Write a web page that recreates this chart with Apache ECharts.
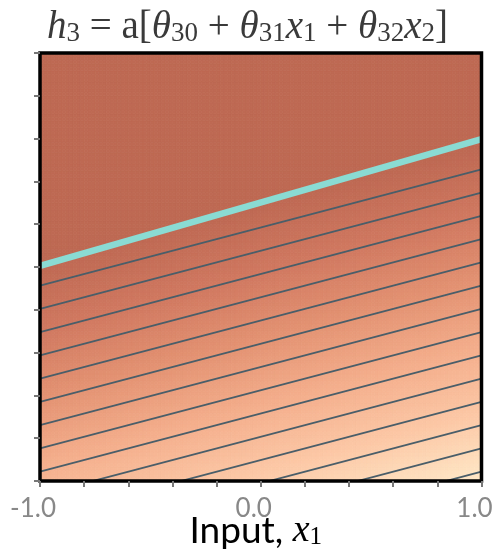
<!DOCTYPE html>
<html>
<head>
<meta charset="utf-8">
<script src="https://cdn.jsdelivr.net/npm/echarts@6/dist/echarts.min.js"></script>
<style>
html,body{margin:0;padding:0;background:#fff;}
#chart{width:495px;height:556px;}
</style>
</head>
<body>
<div id="chart"></div>
<script>
// Parameters of the hidden unit
const theta30 = 0.27;
const theta31 = 0.25;
const theta32 = -0.92;
// Contour levels drawn as thin lines
const contourLevels = [0.1, 0.2, 0.3, 0.4, 0.5, 0.6, 0.7, 0.8, 0.9, 1.0, 1.1, 1.2, 1.3, 1.4];
// Cyan joint line (x1 values and x2 values at the plot edges)
const jointX1 = [-1.0, 1.0];
const jointX2 = [0.005, 0.598];
// Tick labels shown on the x axis
const xTickValues = [-1.0, 0.0, 1.0];
const xTickLabels = ['-1.0', '0.0', '1.0'];
// Colour map stops for the activation
const colourStops = ['#BE6953', '#D07860', '#E39272', '#F4AE8C', '#FCC8A6', '#FFE9C8'];
const gridN = 120;

const cells = [];
const step = 2 / gridN;
for (let i = 0; i < gridN; i++) {
  const x1 = -1 + (i + 0.5) * step;
  for (let j = 0; j < gridN; j++) {
    const x2 = -1 + (j + 0.5) * step;
    cells.push([x1, x2, Math.max(0, theta30 + theta31 * x1 + theta32 * x2)]);
  }
}
const vmax = Math.max(0, theta30 + theta31 * 1 + theta32 * -1);

const lineStyleContour = { color: '#4A5E69', width: 1.8 };
const contourSeries = contourLevels.map(l => ({
  type: 'line',
  data: [[-1, (l - theta30 - theta31 * -1) / theta32], [1, (l - theta30 - theta31 * 1) / theta32]],
  symbol: 'none', clip: true, silent: true, z: 3,
  lineStyle: lineStyleContour
}));

const chart = echarts.init(document.getElementById('chart'));
const serif = 'Liberation Serif';
const tcol = '#3a3a3a';
chart.setOption({
  animation: false,
  backgroundColor: '#fff',
  title: {
    left: 'center', top: -2,
    text: '{i|h}{s|3}{n| = a[}{i|θ}{s|30}{n| + }{i|θ}{s|31}{i|x}{s|1}{n| + }{i|θ}{s|32}{i|x}{s|2}{n|]}',
    textStyle: {
      fontWeight: 'normal',
      rich: {
        i: { fontFamily: serif, fontStyle: 'italic', fontWeight: 'normal', fontSize: 39, color: tcol, lineHeight: 44, verticalAlign: 'bottom' },
        n: { fontFamily: serif, fontWeight: 'normal', fontSize: 39, color: tcol, lineHeight: 44, verticalAlign: 'bottom' },
        s: { fontFamily: serif, fontWeight: 'normal', fontSize: 27, color: tcol, lineHeight: 26, verticalAlign: 'bottom' }
      }
    }
  },
  grid: { left: 40, right: 13.5, top: 53, bottom: 75, outerBoundsMode: 'none', containLabel: false, show: true, borderColor: '#000', borderWidth: 3.5, backgroundColor: 'transparent', z: 10 },
  visualMap: { show: false, type: 'continuous', min: 0, max: vmax, dimension: 2, seriesIndex: 0, inRange: { color: colourStops } },
  xAxis: {
    type: 'value', min: -1, max: 1, interval: 0.2, position: 'bottom', z: 11,
    axisLine: { show: false, onZero: false },
    axisTick: { show: true, length: 6, lineStyle: { color: '#777', width: 2 } },
    splitLine: { show: false },
    axisLabel: {
      show: true, margin: 15, fontFamily: 'Lato', fontSize: 26, color: '#888',
      padding: [0, 14, 0, 0],
      showMinLabel: true, showMaxLabel: true,
      formatter: v => { const k = xTickValues.findIndex(t => Math.abs(t - v) < 1e-6); return k >= 0 ? xTickLabels[k] : ''; }
    },
    name: '{n|Input, }{i|x}{s|1}', nameLocation: 'middle', nameGap: 29, nameMoveOverlap: false,
    nameTextStyle: {
      padding: [0, 10, 0, 0],
      rich: {
        n: { fontFamily: 'Lato', fontSize: 37, color: '#000', lineHeight: 40, verticalAlign: 'bottom' },
        i: { fontFamily: serif, fontStyle: 'italic', fontSize: 38, color: '#000', lineHeight: 40, verticalAlign: 'bottom' },
        s: { fontFamily: serif, fontSize: 25, color: '#000', lineHeight: 24, verticalAlign: 'bottom' }
      }
    }
  },
  yAxis: {
    type: 'value', min: -1, max: 1, interval: 0.2, position: 'left', z: 11,
    axisLine: { show: false, onZero: false },
    axisTick: { show: true, length: 6, lineStyle: { color: '#777', width: 2 } },
    splitLine: { show: false },
    axisLabel: { show: false }
  },
  series: [
    {
      type: 'custom', data: cells, silent: true, z: 1,
      encode: { x: 0, y: 1 },
      renderItem: (params, api) => {
        const x1 = api.value(0), x2 = api.value(1);
        const p0 = api.coord([x1 - step / 2, x2 + step / 2]);
        const p1 = api.coord([x1 + step / 2, x2 - step / 2]);
        const c = api.visual('color');
        return {
          type: 'rect',
          shape: { x: p0[0], y: p0[1], width: p1[0] - p0[0], height: p1[1] - p0[1] },
          style: { fill: c, stroke: c, lineWidth: 0.8 }
        };
      }
    },
    ...contourSeries,
    {
      type: 'line',
      data: jointX1.map((x, k) => [x, jointX2[k]]),
      symbol: 'none', clip: true, silent: true, z: 4,
      lineStyle: { color: '#8ADBD3', width: 6.5 }
    }
  ]
});
</script>
</body>
</html>
